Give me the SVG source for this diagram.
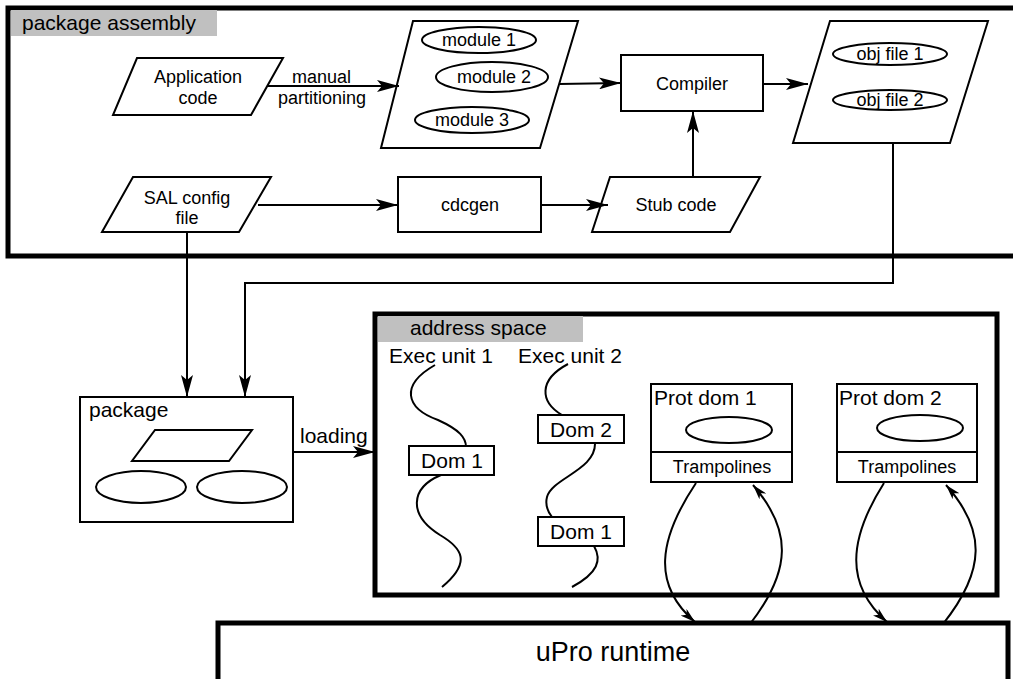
<svg xmlns="http://www.w3.org/2000/svg" width="1013" height="679" viewBox="0 0 1013 679">
<style>
text{font-family:"Liberation Sans",Arial,sans-serif;fill:#000}
.s{fill:#fff;stroke:#000;stroke-width:2}
.frame{fill:none;stroke:#000;stroke-width:5}
.ln{fill:none;stroke:#000;stroke-width:2}
.t18{font-size:18px}
.t21{font-size:21px}
.c{text-anchor:middle}
.lab{fill:#c0c0c0}
</style>
<defs>
<marker id="ah" viewBox="0 0 22 12" refX="22" refY="6" markerWidth="22" markerHeight="12" orient="auto" markerUnits="userSpaceOnUse"><path d="M0,0 L22,6 L0,12 L5,6 z" fill="#000"/></marker>
<marker id="as" viewBox="0 0 15 9" refX="15" refY="4.5" markerWidth="15" markerHeight="9" orient="auto" markerUnits="userSpaceOnUse"><path d="M0,0 L15,4.5 L0,9 L4,4.5 z" fill="#000"/></marker>
</defs>
<rect width="1013" height="679" fill="#fff"/>

<g id="package-assembly">
<path class="frame" d="M1015,8 L8,8 L8,256 L1015,256"/>
<rect class="lab" x="11" y="10" width="206" height="26"/>
<text class="t21" x="22" y="30">package assembly</text>
</g>

<g id="application-code">
<polygon class="s" points="137,58 283,58 251,115 113,115"/>
<text class="t18 c" x="198" y="83">Application</text>
<text class="t18 c" x="198" y="104">code</text>
</g>

<g id="modules">
<polygon class="s" points="413,21 578,21 540,148 381,148"/>
<ellipse class="s" cx="479" cy="40" rx="57" ry="13"/>
<text class="t18 c" x="479" y="46">module 1</text>
<ellipse class="s" cx="492" cy="77" rx="56" ry="15"/>
<text class="t18 c" x="494" y="83">module 2</text>
<ellipse class="s" cx="472" cy="120" rx="57" ry="13"/>
<text class="t18 c" x="472" y="126">module 3</text>
</g>

<g id="compiler">
<rect class="s" x="621" y="55" width="142" height="56"/>
<text class="t18 c" x="692" y="90">Compiler</text>
</g>

<g id="obj-files">
<polygon class="s" points="830,21 988,21 950,143 793,143"/>
<ellipse class="s" cx="890" cy="54" rx="57" ry="11"/>
<text class="t18 c" x="890" y="60">obj file 1</text>
<ellipse class="s" cx="890" cy="100" rx="57" ry="10"/>
<text class="t18 c" x="890" y="106">obj file 2</text>
</g>

<g id="sal-config">
<polygon class="s" points="133,177 271,177 239,232 102,232"/>
<text class="t18 c" x="187" y="204">SAL config</text>
<text class="t18 c" x="187" y="224">file</text>
</g>

<g id="cdcgen">
<rect class="s" x="398" y="177" width="143" height="55"/>
<text class="t18 c" x="470" y="211">cdcgen</text>
</g>

<g id="stub-code">
<polygon class="s" points="610,177 760,177 730,232 592,232"/>
<text class="t18 c" x="676" y="211">Stub code</text>
</g>

<g id="package">
<rect class="s" x="80" y="397" width="213" height="125"/>
<text class="t21" x="89" y="417">package</text>
<polygon class="s" points="155,430 252,430 229,461 132,461"/>
<ellipse class="s" cx="141" cy="487" rx="45" ry="16"/>
<ellipse class="s" cx="242" cy="487" rx="45" ry="16"/>
</g>

<g id="address-space">
<rect class="frame" x="375" y="314" width="622" height="281"/>
<rect class="lab" x="378" y="316" width="205" height="26"/>
<text class="t21" x="410" y="335">address space</text>
<text class="t21" x="389" y="363">Exec unit 1</text>
<text class="t21" x="518" y="363">Exec unit 2</text>
<path class="ln" d="M435,365 C400,385 405,408 438,420 C460,430 466,438 466,447"/>
<path class="ln" d="M441,475 C410,488 408,515 440,535 C462,548 472,562 442,587"/>
<path class="ln" d="M568,364 C538,380 540,402 562,415"/>
<path class="ln" d="M595,443 C596,470 552,478 547,497 C545,505 548,512 552,517"/>
<path class="ln" d="M594,546 C602,560 598,573 572,587"/>
</g>

<g id="dom1-a">
<rect class="s" x="409" y="446" width="85" height="29"/>
<text class="t21 c" x="452" y="468">Dom 1</text>
</g>
<g id="dom2">
<rect class="s" x="538" y="415" width="86" height="28"/>
<text class="t21 c" x="581" y="437">Dom 2</text>
</g>
<g id="dom1-b">
<rect class="s" x="538" y="517" width="86" height="29"/>
<text class="t21 c" x="581" y="539">Dom 1</text>
</g>

<g id="prot-dom-1">
<rect class="s" x="651" y="384" width="141" height="98"/>
<line class="ln" x1="651" y1="452" x2="792" y2="452"/>
<text class="t21" x="654" y="405">Prot dom 1</text>
<ellipse class="s" cx="729" cy="430" rx="43" ry="13"/>
<text class="t18 c" x="722" y="473">Trampolines</text>
</g>

<g id="prot-dom-2">
<rect class="s" x="837" y="384" width="140" height="98"/>
<line class="ln" x1="837" y1="452" x2="977" y2="452"/>
<text class="t21" x="839" y="405">Prot dom 2</text>
<ellipse class="s" cx="920" cy="428" rx="43" ry="13"/>
<text class="t18 c" x="907" y="473">Trampolines</text>
</g>

<g id="upro-runtime">
<rect x="218" y="623" width="790" height="70" fill="#fff" stroke="#000" stroke-width="5"/>
<text class="c" x="613" y="661" font-size="27">uPro runtime</text>
</g>

<g id="connectors">
<line class="ln" x1="268" y1="86" x2="399" y2="86" marker-end="url(#ah)"/>
<text class="t18" x="292" y="83">manual</text>
<text class="t18" x="278" y="104">partitioning</text>
<line class="ln" x1="559" y1="84" x2="621" y2="83" marker-end="url(#ah)"/>
<line class="ln" x1="763" y1="84" x2="808" y2="84" marker-end="url(#ah)"/>
<line class="ln" x1="258" y1="205" x2="398" y2="205" marker-end="url(#ah)"/>
<line class="ln" x1="541" y1="205" x2="608" y2="205" marker-end="url(#ah)"/>
<line class="ln" x1="693" y1="177" x2="693" y2="111" marker-end="url(#ah)"/>
<line class="ln" x1="187" y1="232" x2="187" y2="397" marker-end="url(#ah)"/>
<polyline class="ln" points="893,143 893,283 245,283 245,397" marker-end="url(#ah)"/>
<line class="ln" x1="293" y1="452" x2="375" y2="452" marker-end="url(#ah)"/>
<text class="t21" x="300" y="443">loading</text>
<path class="ln" d="M696,483 C658,540 652,585 695,622" marker-end="url(#as)"/>
<path class="ln" d="M750,624 C792,570 792,530 753,485" marker-end="url(#as)"/>
<path class="ln" d="M884,483 C848,540 845,585 887,622" marker-end="url(#as)"/>
<path class="ln" d="M943,624 C986,570 986,530 946,485" marker-end="url(#as)"/>
</g>
</svg>
